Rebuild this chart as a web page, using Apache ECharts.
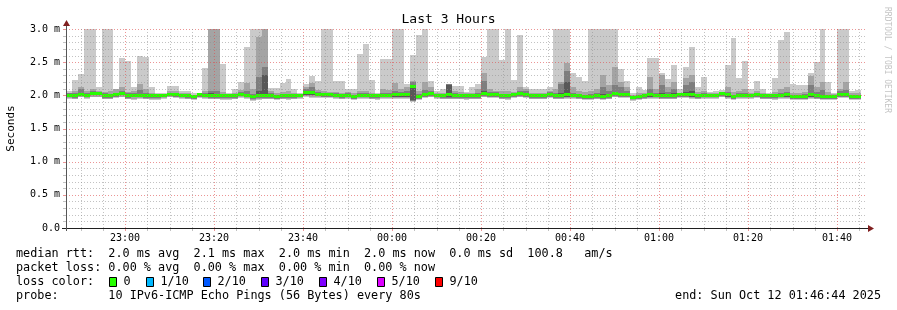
<!DOCTYPE html>
<html><head><meta charset="utf-8">
<script src="https://cdn.jsdelivr.net/npm/echarts@6/dist/echarts.min.js"></script>
<style>html,body{margin:0;padding:0;background:#fff}#c{width:897px;height:310px}</style>
</head><body><div id="c"></div>
<script>
// ---------------- DATA ----------------
const endTime = new Date(2025, 9, 12, 1, 46, 44).getTime();
const startTime = endTime - 3 * 3600 * 1000;
const stepMs = 80000;
const yMax = 3.0;
const titleText = 'Last 3 Hours';
const yAxisName = 'Seconds';
const xTickLabels = ['23:00','23:20','23:40','00:00','00:20','00:40','01:00','01:20','01:40'];
const yTickLabels = ['0.0','0.5 m','1.0 m','1.5 m','2.0 m','2.5 m','3.0 m'];

// sorted ping times per 80 s step (ms), ping10 = slowest, ping1 = fastest
const ping10 = [
2.06,2.23,2.32,3.0,3.0,2.12,3.0,3.0,2.10,2.57,
2.52,2.12,2.60,2.58,2.12,2.04,2.04,2.14,2.14,2.07,
2.06,2.04,2.04,2.41,3.0,3.0,2.47,2.04,2.09,2.20,
2.73,3.0,3.0,3.0,2.11,2.11,2.19,2.25,2.10,2.04,
2.17,2.29,2.22,3.0,3.0,2.22,2.22,2.10,2.10,2.63,
2.77,2.23,2.04,2.55,2.55,3.0,3.0,2.17,2.61,2.91,
3.0,2.22,2.06,2.09,2.16,2.14,2.14,2.05,2.12,2.17,
2.58,3.0,3.0,2.54,3.0,2.23,2.91,2.13,2.10,2.10,
2.10,2.12,3.0,3.0,3.0,2.34,2.27,2.22,3.0,3.0,
3.0,3.0,3.0,2.39,2.21,2.03,2.12,2.08,2.56,2.56,
2.33,2.24,2.46,2.09,2.43,2.73,2.13,2.27,2.05,2.07,
2.08,2.46,2.87,2.26,2.52,2.09,2.21,2.09,2.03,2.26,
2.83,2.96,2.17,2.16,2.16,2.34,2.51,3.0,2.20,2.03,
3.0,3.0,2.07,2.08];
const ping9 = [
2.04,2.07,2.13,2.07,2.10,2.06,2.05,2.06,2.10,2.12,
2.05,2.07,2.17,2.10,2.04,2.02,2.02,2.06,2.06,2.03,
2.03,2.01,2.02,2.06,3.0,3.0,2.05,2.02,2.04,2.08,
2.18,2.10,2.88,3.0,2.06,2.04,2.05,2.06,2.04,2.02,
2.13,2.18,2.08,2.06,2.05,2.05,2.04,2.05,2.03,2.06,
2.07,2.04,2.02,2.09,2.08,2.18,2.10,2.12,2.22,2.06,
2.20,2.12,2.03,2.04,2.17,2.07,2.05,2.03,2.04,2.10,
2.34,2.09,2.07,2.07,2.06,2.05,2.12,2.10,2.04,2.04,
2.03,2.06,2.09,2.20,2.49,2.12,2.06,2.05,2.06,2.10,
2.30,2.16,2.42,2.20,2.12,2.01,2.04,2.03,2.28,2.10,
2.30,2.12,2.20,2.04,2.26,2.31,2.05,2.06,2.03,2.03,
2.05,2.12,2.05,2.06,2.10,2.04,2.06,2.04,2.02,2.05,
2.10,2.12,2.04,2.04,2.05,2.29,2.12,2.20,2.05,2.02,
2.10,2.20,2.04,2.03];
const ping8 = [
2.03,2.04,2.10,2.03,2.06,2.05,2.03,2.02,2.04,2.06,
2.03,2.03,2.08,2.04,2.02,2.01,2.02,2.04,2.04,2.02,
2.02,2.00,2.03,2.03,2.07,2.06,2.02,2.01,2.02,2.05,
2.06,2.02,2.28,2.42,2.03,2.01,2.02,2.02,2.02,2.02,
2.10,2.12,2.05,2.04,2.04,2.03,2.02,2.03,2.01,2.03,
2.04,2.02,2.01,2.04,2.04,2.07,2.05,2.06,2.20,2.02,
2.08,2.07,2.02,2.02,2.17,2.04,2.02,2.01,2.02,2.04,
2.22,2.05,2.05,2.02,2.02,2.03,2.07,2.06,2.02,2.02,
2.02,2.05,2.04,2.17,2.37,2.04,2.02,2.01,2.02,2.04,
2.12,2.06,2.16,2.12,2.07,1.99,2.01,2.02,2.10,2.04,
2.15,2.05,2.10,2.04,2.15,2.20,2.02,2.03,2.02,2.02,
2.05,2.05,2.01,2.03,2.04,2.02,2.04,2.01,2.01,2.02,
2.04,2.05,2.01,2.01,2.02,2.15,2.05,2.08,2.01,2.00,
2.06,2.08,2.01,2.00];
const ping7 = [
2.02,2.02,2.04,2.02,2.04,2.04,2.02,2.01,2.03,2.04,
2.02,2.02,2.02,2.02,2.00,2.00,2.01,2.03,2.02,2.01,
2.00,1.99,2.02,2.01,2.03,2.01,2.00,2.00,2.00,2.03,
2.02,1.99,2.06,2.30,2.00,1.99,2.00,2.00,2.00,2.01,
2.06,2.06,2.03,2.03,2.03,2.01,2.00,2.01,1.99,2.01,
2.01,2.00,2.00,2.01,2.01,2.03,2.02,2.03,2.15,1.99,
2.03,2.04,2.01,2.00,2.15,2.01,2.00,2.00,2.00,2.00,
2.06,2.03,2.03,2.00,2.00,2.02,2.04,2.03,2.00,2.00,
2.00,2.03,2.01,2.04,2.20,2.01,2.00,1.99,1.99,2.00,
2.02,2.00,2.05,2.04,2.03,1.98,1.99,2.00,2.03,2.01,
2.04,2.00,2.03,2.03,2.05,2.06,2.00,2.01,2.01,2.01,
2.04,2.02,1.99,2.01,2.01,2.01,2.02,2.00,2.00,2.00,
2.01,2.02,1.99,1.99,1.99,2.04,2.00,2.00,1.99,1.99,
2.03,2.04,1.99,1.99];
const median = [
2.00,2.00,2.02,2.00,2.03,2.03,2.00,1.99,2.01,2.03,
2.00,2.00,2.00,2.00,1.99,1.99,2.00,2.02,2.01,2.00,
1.99,1.98,2.01,2.00,2.00,1.99,1.99,1.99,1.99,2.02,
2.00,1.98,1.99,2.00,1.99,1.98,1.99,1.99,1.99,2.00,
2.04,2.04,2.02,2.02,2.02,2.00,1.99,2.00,1.98,2.00,
2.00,1.99,1.99,2.00,2.00,2.01,2.01,2.01,2.14,1.98,
2.02,2.03,2.00,1.99,2.01,2.00,1.99,1.99,1.99,1.99,
2.03,2.02,2.02,1.99,1.99,2.01,2.03,2.02,1.99,1.99,
1.99,2.02,2.00,2.00,2.02,2.00,1.99,1.98,1.98,1.99,
1.98,1.99,2.03,2.02,2.02,1.97,1.98,1.99,2.01,2.00,
2.00,1.99,2.00,2.02,2.02,2.01,1.99,2.00,2.00,2.00,
2.03,2.01,1.98,2.00,2.00,2.00,2.01,1.99,1.99,1.99,
2.00,2.01,1.98,1.98,1.98,2.01,1.99,1.98,1.98,1.98,
2.02,2.02,1.98,1.98];
const ping4 = [
1.98,1.97,2.00,1.98,2.01,2.01,1.97,1.97,1.99,2.01,
1.97,1.98,1.98,1.97,1.97,1.97,1.98,2.00,1.99,1.98,
1.97,1.96,1.99,1.98,1.97,1.97,1.97,1.97,1.97,2.00,
1.98,1.96,1.97,1.97,1.97,1.96,1.97,1.97,1.97,1.98,
2.01,2.01,2.00,1.99,1.99,1.98,1.97,1.98,1.96,1.98,
1.98,1.97,1.97,1.98,1.98,1.98,1.98,1.98,1.93,1.96,
1.99,2.00,1.98,1.97,1.97,1.97,1.97,1.97,1.97,1.97,
2.00,1.99,1.99,1.97,1.97,1.99,2.00,1.99,1.97,1.97,
1.97,1.99,1.97,1.97,1.98,1.98,1.97,1.96,1.96,1.97,
1.96,1.97,2.00,1.99,1.99,1.95,1.96,1.97,1.98,1.98,
1.97,1.97,1.97,1.99,1.99,1.98,1.97,1.98,1.98,1.98,
2.00,1.98,1.96,1.98,1.98,1.98,1.99,1.97,1.97,1.97,
1.98,1.98,1.96,1.96,1.96,1.98,1.97,1.96,1.96,1.96,
1.99,1.99,1.96,1.96];
const ping3 = [
1.97,1.96,1.99,1.97,2.00,2.00,1.96,1.96,1.98,2.00,
1.96,1.97,1.97,1.96,1.96,1.96,1.97,1.99,1.98,1.97,
1.96,1.95,1.98,1.97,1.96,1.96,1.96,1.96,1.96,1.99,
1.97,1.95,1.96,1.96,1.96,1.95,1.96,1.96,1.96,1.97,
2.00,2.00,1.99,1.98,1.98,1.97,1.96,1.97,1.95,1.97,
1.97,1.96,1.96,1.97,1.97,1.97,1.97,1.97,1.92,1.95,
1.98,1.99,1.97,1.96,1.96,1.96,1.96,1.96,1.96,1.96,
1.99,1.98,1.98,1.96,1.96,1.98,1.99,1.98,1.96,1.96,
1.96,1.98,1.96,1.96,1.97,1.97,1.96,1.95,1.95,1.96,
1.95,1.96,1.99,1.98,1.98,1.94,1.95,1.96,1.97,1.97,
1.96,1.96,1.96,1.98,1.98,1.97,1.96,1.97,1.97,1.97,
1.99,1.97,1.95,1.97,1.97,1.97,1.98,1.96,1.96,1.96,
1.97,1.97,1.95,1.95,1.95,1.97,1.96,1.95,1.95,1.95,
1.98,1.98,1.95,1.95];
const ping2 = [
1.96,1.95,1.98,1.96,1.98,1.98,1.95,1.95,1.97,1.98,
1.95,1.95,1.96,1.95,1.94,1.94,1.96,1.98,1.97,1.96,
1.95,1.94,1.97,1.96,1.95,1.95,1.94,1.94,1.95,1.97,
1.96,1.93,1.94,1.95,1.95,1.94,1.95,1.95,1.95,1.96,
1.99,1.98,1.97,1.97,1.97,1.96,1.95,1.96,1.94,1.96,
1.96,1.95,1.95,1.96,1.96,1.96,1.96,1.96,1.91,1.94,
1.97,1.98,1.96,1.95,1.95,1.95,1.95,1.95,1.95,1.95,
1.98,1.97,1.97,1.95,1.95,1.97,1.98,1.97,1.95,1.95,
1.95,1.97,1.95,1.95,1.96,1.96,1.95,1.94,1.94,1.95,
1.94,1.95,1.98,1.97,1.97,1.93,1.94,1.95,1.96,1.96,
1.95,1.95,1.95,1.97,1.97,1.96,1.95,1.96,1.96,1.96,
1.98,1.96,1.94,1.96,1.96,1.96,1.97,1.95,1.95,1.95,
1.96,1.96,1.94,1.94,1.94,1.96,1.95,1.94,1.94,1.94,
1.97,1.97,1.94,1.94];
const ping1 = [
1.95,1.94,1.97,1.95,1.97,1.97,1.94,1.94,1.96,1.97,
1.94,1.93,1.95,1.94,1.93,1.93,1.95,1.97,1.96,1.95,
1.94,1.93,1.96,1.95,1.94,1.94,1.93,1.93,1.94,1.96,
1.94,1.92,1.93,1.94,1.94,1.93,1.94,1.93,1.94,1.95,
1.97,1.96,1.96,1.96,1.96,1.94,1.94,1.95,1.93,1.95,
1.95,1.94,1.93,1.95,1.95,1.95,1.95,1.94,1.90,1.93,
1.96,1.97,1.95,1.94,1.94,1.94,1.94,1.93,1.94,1.94,
1.97,1.96,1.96,1.94,1.93,1.96,1.97,1.96,1.94,1.94,
1.94,1.96,1.94,1.94,1.95,1.95,1.94,1.93,1.93,1.94,
1.93,1.94,1.97,1.96,1.96,1.92,1.93,1.94,1.95,1.95,
1.94,1.94,1.94,1.96,1.96,1.95,1.94,1.95,1.95,1.95,
1.97,1.95,1.93,1.95,1.95,1.95,1.96,1.94,1.94,1.93,
1.95,1.95,1.93,1.93,1.93,1.95,1.94,1.93,1.93,1.93,
1.96,1.96,1.93,1.93];

const statsLine1 = 'median rtt:  2.0 ms avg  2.1 ms max  2.0 ms min  2.0 ms now  0.0 ms sd  100.8   am/s';
const statsLine2 = 'packet loss: 0.00 % avg  0.00 % max  0.00 % min  0.00 % now';
const lossTitle = 'loss color:';
const lossLabels = ['0','1/10','2/10','3/10','4/10','5/10','9/10'];
const lossColors = ['#26ff00','#00b8ff','#0059ff','#5e00ff','#7e00ff','#dd00ff','#ff0000'];
const probeLine = 'probe:       10 IPv6-ICMP Echo Pings (56 Bytes) every 80s';
const endLine = 'end: Sun Oct 12 01:46:44 2025';
const watermark = 'RRDTOOL / TOBI OETIKER';

// ---------------- BUILD ----------------
const MONO = '"DejaVu Sans Mono", monospace';
const LEGEND_FONT = '11.8px ' + MONO;
const bands = [
  {lo: ping1, hi: ping10, color: '#cacaca'},
  {lo: ping2, hi: ping9,  color: '#a4a4a4'},
  {lo: ping3, hi: ping8,  color: '#7e7e7e'},
  {lo: ping4, hi: ping7,  color: '#585858'}
];
const smokeData = median.map((m, i) => [startTime + i * stepMs, startTime + (i + 1) * stepMs, ping1[i], Math.min(ping10[i], yMax), i]);
const medianData = median.map((m, i) => [startTime + i * stepMs, startTime + (i + 1) * stepMs, m]);

function labelTime(lbl) {
  const [h, m] = lbl.split(':').map(Number);
  return h >= 12 ? new Date(2025, 9, 11, h, m, 0).getTime() : new Date(2025, 9, 12, h, m, 0).getTime();
}
const xLabelTimes = xTickLabels.map(labelTime);
const pad = n => (n < 10 ? '0' : '') + n;

function renderSmoke(params, api) {
  const i = api.value(4);
  const t0 = api.value(0), t1 = api.value(1);
  const children = [];
  bands.forEach(b => {
    const lo = Math.min(b.lo[i], yMax), hi = Math.min(b.hi[i], yMax);
    const a = api.coord([t0, hi]), c = api.coord([t1, lo]);
    const x0 = Math.round(a[0]), x1 = Math.round(c[0]);
    const y0 = Math.round(a[1]), y1 = Math.round(c[1]);
    if (y1 > y0) children.push({type: 'rect', shape: {x: x0, y: y0, width: x1 - x0, height: y1 - y0}, style: {fill: b.color}});
  });
  return {type: 'group', children};
}
function renderMedian(params, api) {
  const a = api.coord([api.value(0), api.value(2)]), c = api.coord([api.value(1), api.value(2)]);
  const x0 = Math.round(a[0]), x1 = Math.round(c[0]);
  const y = Math.round(a[1] - 1.5);
  return {type: 'rect', shape: {x: x0, y: y, width: x1 - x0, height: 3}, style: {fill: lossColors[0]}};
}
function renderGrid(params, api) {
  const cs = params.coordSys;
  const left = cs.x, right = cs.x + cs.width, top = cs.y, bottom = cs.y + cs.height;
  const minorCol = 'rgba(143,143,143,0.55)', majorCol = 'rgba(222,79,79,0.6)';
  const ch = [];
  for (let k = 1; k <= 30; k++) {
    const major = k % 5 === 0;
    const y = Math.round(api.coord([startTime, k / 10])[1]) + 0.5;
    ch.push({type: 'line', shape: {x1: left, y1: y, x2: right, y2: y}, style: {stroke: major ? majorCol : minorCol, lineWidth: 1, lineDash: [1, 2]}});
    ch.push({type: 'line', shape: {x1: left - 3, y1: y, x2: left, y2: y}, style: {stroke: major ? majorCol : minorCol, lineWidth: 1}});
  }
  for (let t = new Date(2025, 9, 11, 22, 50, 0).getTime(); t <= endTime; t += 300000) {
    const major = new Date(t).getMinutes() % 20 === 0;
    const x = Math.round(api.coord([t, 0])[0]) + 0.5;
    ch.push({type: 'line', shape: {x1: x, y1: top, x2: x, y2: bottom}, style: {stroke: major ? majorCol : minorCol, lineWidth: 1, lineDash: [1, 2]}});
    ch.push({type: 'line', shape: {x1: x, y1: bottom, x2: x, y2: bottom + 3}, style: {stroke: major ? majorCol : minorCol, lineWidth: 1}});
  }
  return {type: 'group', children: ch};
}

const legendY = [254.3, 268.3, 282.3, 296.3];
const lossBoxX = [109, 146, 203, 261, 319, 377, 435];
const graphics = [
  {type: 'line', shape: {x1: 62, y1: 228.5, x2: 869, y2: 228.5}, style: {stroke: '#1f1f1f', lineWidth: 1}, z: 100},
  {type: 'polygon', shape: {points: [[868, 225], [874, 228.5], [868, 232]]}, style: {fill: '#801f1f'}, z: 100},
  {type: 'line', shape: {x1: 66.5, y1: 231, x2: 66.5, y2: 24}, style: {stroke: '#555555', lineWidth: 1}, z: 100},
  {type: 'polygon', shape: {points: [[63, 26], [66.5, 20], [70, 26]]}, style: {fill: '#801f1f'}, z: 100},
  {type: 'text', x: 887, y: 60, rotation: -Math.PI / 2, style: {text: watermark, font: '8px ' + MONO, fill: '#c4c4c4', align: 'center', verticalAlign: 'middle'}},
  {type: 'text', x: 16, y: legendY[0], style: {text: statsLine1, font: LEGEND_FONT, fill: '#000', align: 'left', verticalAlign: 'middle'}},
  {type: 'text', x: 16, y: legendY[1], style: {text: statsLine2, font: LEGEND_FONT, fill: '#000', align: 'left', verticalAlign: 'middle'}},
  {type: 'text', x: 16, y: legendY[2], style: {text: lossTitle, font: LEGEND_FONT, fill: '#000', align: 'left', verticalAlign: 'middle'}},
  {type: 'text', x: 16, y: legendY[3], style: {text: probeLine, font: LEGEND_FONT, fill: '#000', align: 'left', verticalAlign: 'middle'}},
  {type: 'text', x: 881, y: legendY[3], style: {text: endLine, font: LEGEND_FONT, fill: '#000', align: 'right', verticalAlign: 'middle'}}
];
lossLabels.forEach((lbl, k) => {
  graphics.push({type: 'rect', shape: {x: lossBoxX[k] + 0.5, y: 277.5, width: 7, height: 9}, style: {fill: lossColors[k], stroke: '#000', lineWidth: 1}});
  graphics.push({type: 'text', x: lossBoxX[k] + 14.5, y: legendY[2], style: {text: lbl, font: LEGEND_FONT, fill: '#000', align: 'left', verticalAlign: 'middle'}});
});

const chart = echarts.init(document.getElementById('c'), null, {renderer: 'canvas'});
chart.setOption({
  animation: false,
  backgroundColor: '#ffffff',
  title: {text: titleText, left: 'center', top: 13, padding: 0,
    textStyle: {fontFamily: MONO, fontSize: 13, fontWeight: 'normal', color: '#000'}},
  grid: {left: 66, right: 30, top: 29, bottom: 82, containLabel: false, outerBoundsMode: 'none'},
  xAxis: {
    type: 'value', min: startTime, max: endTime, scale: true,
    axisLine: {show: false}, axisTick: {show: false}, splitLine: {show: false},
    axisLabel: {customValues: xLabelTimes, hideOverlap: false,
      formatter: v => { const d = new Date(v); return pad(d.getHours()) + ':' + pad(d.getMinutes()); },
      fontFamily: MONO, fontSize: 10, color: '#000', margin: 5}
  },
  yAxis: {
    type: 'value', min: 0, max: yMax, interval: 0.5,
    name: yAxisName, nameLocation: 'middle', nameGap: 49, nameRotate: 90,
    nameTextStyle: {fontFamily: MONO, fontSize: 11, color: '#000'},
    axisLine: {show: false}, axisTick: {show: false}, splitLine: {show: false},
    axisLabel: {formatter: (v) => yTickLabels[Math.round(v / 0.5)], fontFamily: MONO, fontSize: 10, color: '#000', margin: 6}
  },
  graphic: graphics,
  series: [
    {type: 'custom', name: 'smoke', renderItem: renderSmoke, data: smokeData, encode: {x: [0, 1], y: [2, 3]}, z: 2, silent: true},
    {type: 'custom', name: 'median rtt', renderItem: renderMedian, data: medianData, encode: {x: [0, 1], y: 2}, z: 3, silent: true},
    {type: 'custom', name: 'grid', renderItem: renderGrid, data: [[startTime, 0]], encode: {x: 0, y: 1}, z: 4, silent: true}
  ]
});
</script></body></html>
